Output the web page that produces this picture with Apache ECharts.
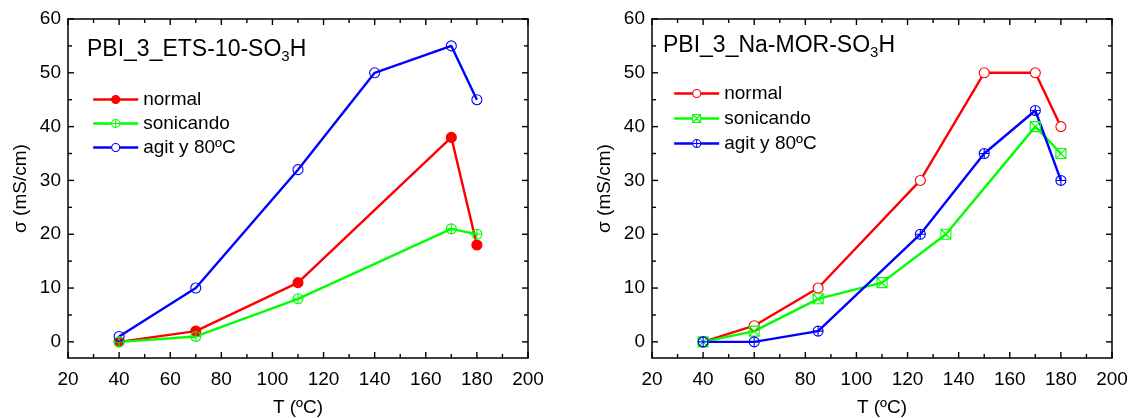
<!DOCTYPE html>
<html>
<head>
<meta charset="utf-8">
<script src="https://cdn.jsdelivr.net/npm/echarts@6/dist/echarts.min.js"></script>
<style>
  html, body { margin: 0; padding: 0; background: #fff; }
  #chart { width: 1136px; height: 418px; }
</style>
</head>
<body>
<div id="chart"></div>
<script>
// Conductivity vs temperature, two membranes
const xTickValues = [20, 40, 60, 80, 100, 120, 140, 160, 180, 200];
const xMinorValues = [30, 50, 70, 90, 110, 130, 150, 170, 190];
const yTickValues = [0, 10, 20, 30, 40, 50, 60];
const yMinorValues = [5, 15, 25, 35, 45, 55];

// PBI_3_ETS-10-SO3H
const etsNormalT = [40, 70, 110, 170, 180];
const etsNormal = [0, 2, 11, 38, 18];
const etsSonicT = [40, 70, 110, 170, 180];
const etsSonic = [0, 1, 8, 21, 20];
const etsAgitT = [40, 70, 110, 140, 170, 180];
const etsAgit = [1, 10, 32, 50, 55, 45];

// PBI_3_Na-MOR-SO3H
const morNormalT = [40, 60, 85, 125, 150, 170, 180];
const morNormal = [0, 3, 10, 30, 50, 50, 40];
const morSonicT = [40, 60, 85, 110, 135, 170, 180];
const morSonic = [0, 2, 8, 11, 20, 40, 35];
const morAgitT = [40, 60, 85, 125, 150, 170, 180];
const morAgit = [0, 0, 2, 20, 35, 43, 30];

const seriesLabels = ['normal', 'sonicando', 'agit y 80ºC'];

const X_MIN = 20, X_MAX = 200, Y_MIN = -3, Y_MAX = 60;
const RED = '#ff0000', GREEN = '#00ff00', BLUE = '#0000ff';
const FONT = 'Liberation Sans, Arial, sans-serif';

// marker shapes
const openCircle = 'path://M0,-10A10,10,0,1,1,0,10A10,10,0,1,1,0,-10Z';
const circlePlus = openCircle + 'M-10,0L10,0M0,-10L0,10';
const squareCross = 'path://M-10,-10L10,-10L10,10L-10,10ZM-10,-10L10,10M10,-10L-10,10';

const pairs = (xs, ys) => xs.map((x, i) => [x, ys[i]]);

const grids = [
  { left: 68, right: 608, top: 19, bottom: 60, outerBoundsMode: 'none', containLabel: false },
  { left: 652, right: 24, top: 19, bottom: 60, outerBoundsMode: 'none', containLabel: false }
];

const xAxes = [], yAxes = [];
grids.forEach((g, gi) => {
  const line = { show: true, onZero: false, lineStyle: { color: '#000', width: 1.5 } };
  xAxes.push({
    gridIndex: gi, type: 'value', position: 'bottom', min: X_MIN, max: X_MAX, interval: 20,
    axisLine: line, axisTick: { show: false }, minorTick: { show: false },
    axisLabel: { color: '#000', fontSize: 19, fontFamily: FONT, margin: 12 },
    splitLine: { show: false },
    name: 'T (ºC)', nameLocation: 'middle', nameGap: 40,
    nameTextStyle: { color: '#000', fontSize: 19, fontFamily: FONT }
  });
  xAxes.push({
    gridIndex: gi, type: 'value', position: 'top', min: X_MIN, max: X_MAX, interval: 20,
    axisLine: line, axisTick: { show: false }, minorTick: { show: false },
    axisLabel: { show: false }, splitLine: { show: false }
  });
  ['left', 'right'].forEach(pos => {
    yAxes.push({
      gridIndex: gi, type: 'value', position: pos, min: Y_MIN, max: Y_MAX,
      axisLine: line, axisTick: { show: false },
      axisLabel: pos === 'left'
        ? { show: true, customValues: yTickValues, color: '#000', fontSize: 19, fontFamily: FONT, margin: 7 }
        : { show: false },
      splitLine: { show: false },
      name: pos === 'left' ? 'σ (mS/cm)' : '',
      nameLocation: 'middle', nameGap: 38,
      nameTextStyle: { color: '#000', fontSize: 19, fontFamily: FONT }
    });
  });
});

// inward ticks on all four sides of a panel, placed through the panel's axes
// kind: 0 x major, 1 x minor, 2 y major, 3 y minor
const tickValues = [].concat(xTickValues, xMinorValues, yTickValues, yMinorValues);
const tickKinds = [].concat(
  xTickValues.map(() => 0), xMinorValues.map(() => 1),
  yTickValues.map(() => 2), yMinorValues.map(() => 3)
);
function frameTicks(gi) {
  return {
    type: 'custom', xAxisIndex: gi * 2, yAxisIndex: gi * 2,
    silent: true, clip: false, z: 10,
    data: tickValues.map((v, i) => [v, tickKinds[i]]),
    renderItem: (params, api) => {
      const i = params.dataIndex;
      const v = tickValues[i], k = tickKinds[i];
      const major = (k === 0 || k === 2);
      const len = major ? 6 : 4;
      const style = { stroke: '#000', lineWidth: 1.4, fill: null };
      let a, b;
      if (k < 2) {
        const p0 = api.coord([v, Y_MIN]), p1 = api.coord([v, Y_MAX]);
        a = { x1: p0[0], y1: p0[1], x2: p0[0], y2: p0[1] - len };
        b = { x1: p1[0], y1: p1[1], x2: p1[0], y2: p1[1] + len };
      } else {
        const p0 = api.coord([X_MIN, v]), p1 = api.coord([X_MAX, v]);
        a = { x1: p0[0], y1: p0[1], x2: p0[0] + len, y2: p0[1] };
        b = { x1: p1[0], y1: p1[1], x2: p1[0] - len, y2: p1[1] };
      }
      return { type: 'group', children: [
        { type: 'line', shape: a, style: style },
        { type: 'line', shape: b, style: style }
      ] };
    }
  };
}

// each grid owns 2 x axes and 2 y axes; series use the bottom x and left y
function makeSeries(gi, label, xs, ys, color, symbol, fill) {
  return {
    name: (gi === 0 ? 'ETS ' : 'MOR ') + label,
    type: 'line', xAxisIndex: gi * 2, yAxisIndex: gi * 2,
    data: pairs(xs, ys),
    symbol: symbol, symbolSize: 10, showSymbol: true,
    lineStyle: { color: color, width: 2.4 },
    itemStyle: { color: fill, borderColor: color, borderWidth: 1.1 },
    emphasis: { disabled: true },
    animation: false
  };
}

const CLEAR = 'rgba(255,255,255,0)';
const series = [
  makeSeries(0, seriesLabels[0], etsNormalT, etsNormal, RED, 'circle', RED),
  makeSeries(0, seriesLabels[1], etsSonicT, etsSonic, GREEN, circlePlus, CLEAR),
  makeSeries(0, seriesLabels[2], etsAgitT, etsAgit, BLUE, openCircle, CLEAR),
  makeSeries(1, seriesLabels[0], morNormalT, morNormal, RED, openCircle, '#fff'),
  makeSeries(1, seriesLabels[1], morSonicT, morSonic, GREEN, squareCross, CLEAR),
  makeSeries(1, seriesLabels[2], morAgitT, morAgit, BLUE, circlePlus, CLEAR)
];

const legendItems = list => list.map(s => ({
  name: s.name,
  itemStyle: { color: s.itemStyle.color === CLEAR ? '#fff' : s.itemStyle.color, borderColor: s.lineStyle.color, borderWidth: 1.1 },
  lineStyle: { color: s.lineStyle.color, width: 2.4 }
}));

const legendBase = {
  orient: 'vertical', itemWidth: 45, itemHeight: 10, itemGap: 5,
  selectedMode: false,
  textStyle: { color: '#000', fontSize: 19, fontFamily: FONT },
  formatter: n => n.split(' ').slice(1).join(' ')
};

const titleRich = {
  a: { fontSize: 23, fontFamily: FONT, fontWeight: 'normal', color: '#000', lineHeight: 30 },
  s: { fontSize: 15, fontFamily: FONT, fontWeight: 'normal', color: '#000', lineHeight: 30, padding: [14, 0, 0, 0] }
};

const option = {
  backgroundColor: '#fff',
  animation: false,
  grid: grids,
  xAxis: xAxes,
  yAxis: yAxes,
  title: [
    { text: '{a|PBI_3_ETS-10-SO}{s|3}{a|H}', left: 82, top: 30, textStyle: { fontWeight: 'normal', rich: titleRich } },
    { text: '{a|PBI_3_Na-MOR-SO}{s|3}{a|H}', left: 658, top: 26, textStyle: { fontWeight: 'normal', rich: titleRich } }
  ],
  legend: [
    Object.assign({}, legendBase, { left: 87, top: 85, data: legendItems(series.slice(0, 3)) }),
    Object.assign({}, legendBase, { left: 668, top: 79, itemGap: 6, data: legendItems(series.slice(3)) })
  ],
  series: series.concat([frameTicks(0), frameTicks(1)])
};

const chart = echarts.init(document.getElementById('chart'), null, { renderer: 'canvas' });
chart.setOption(option);
</script>
</body>
</html>
